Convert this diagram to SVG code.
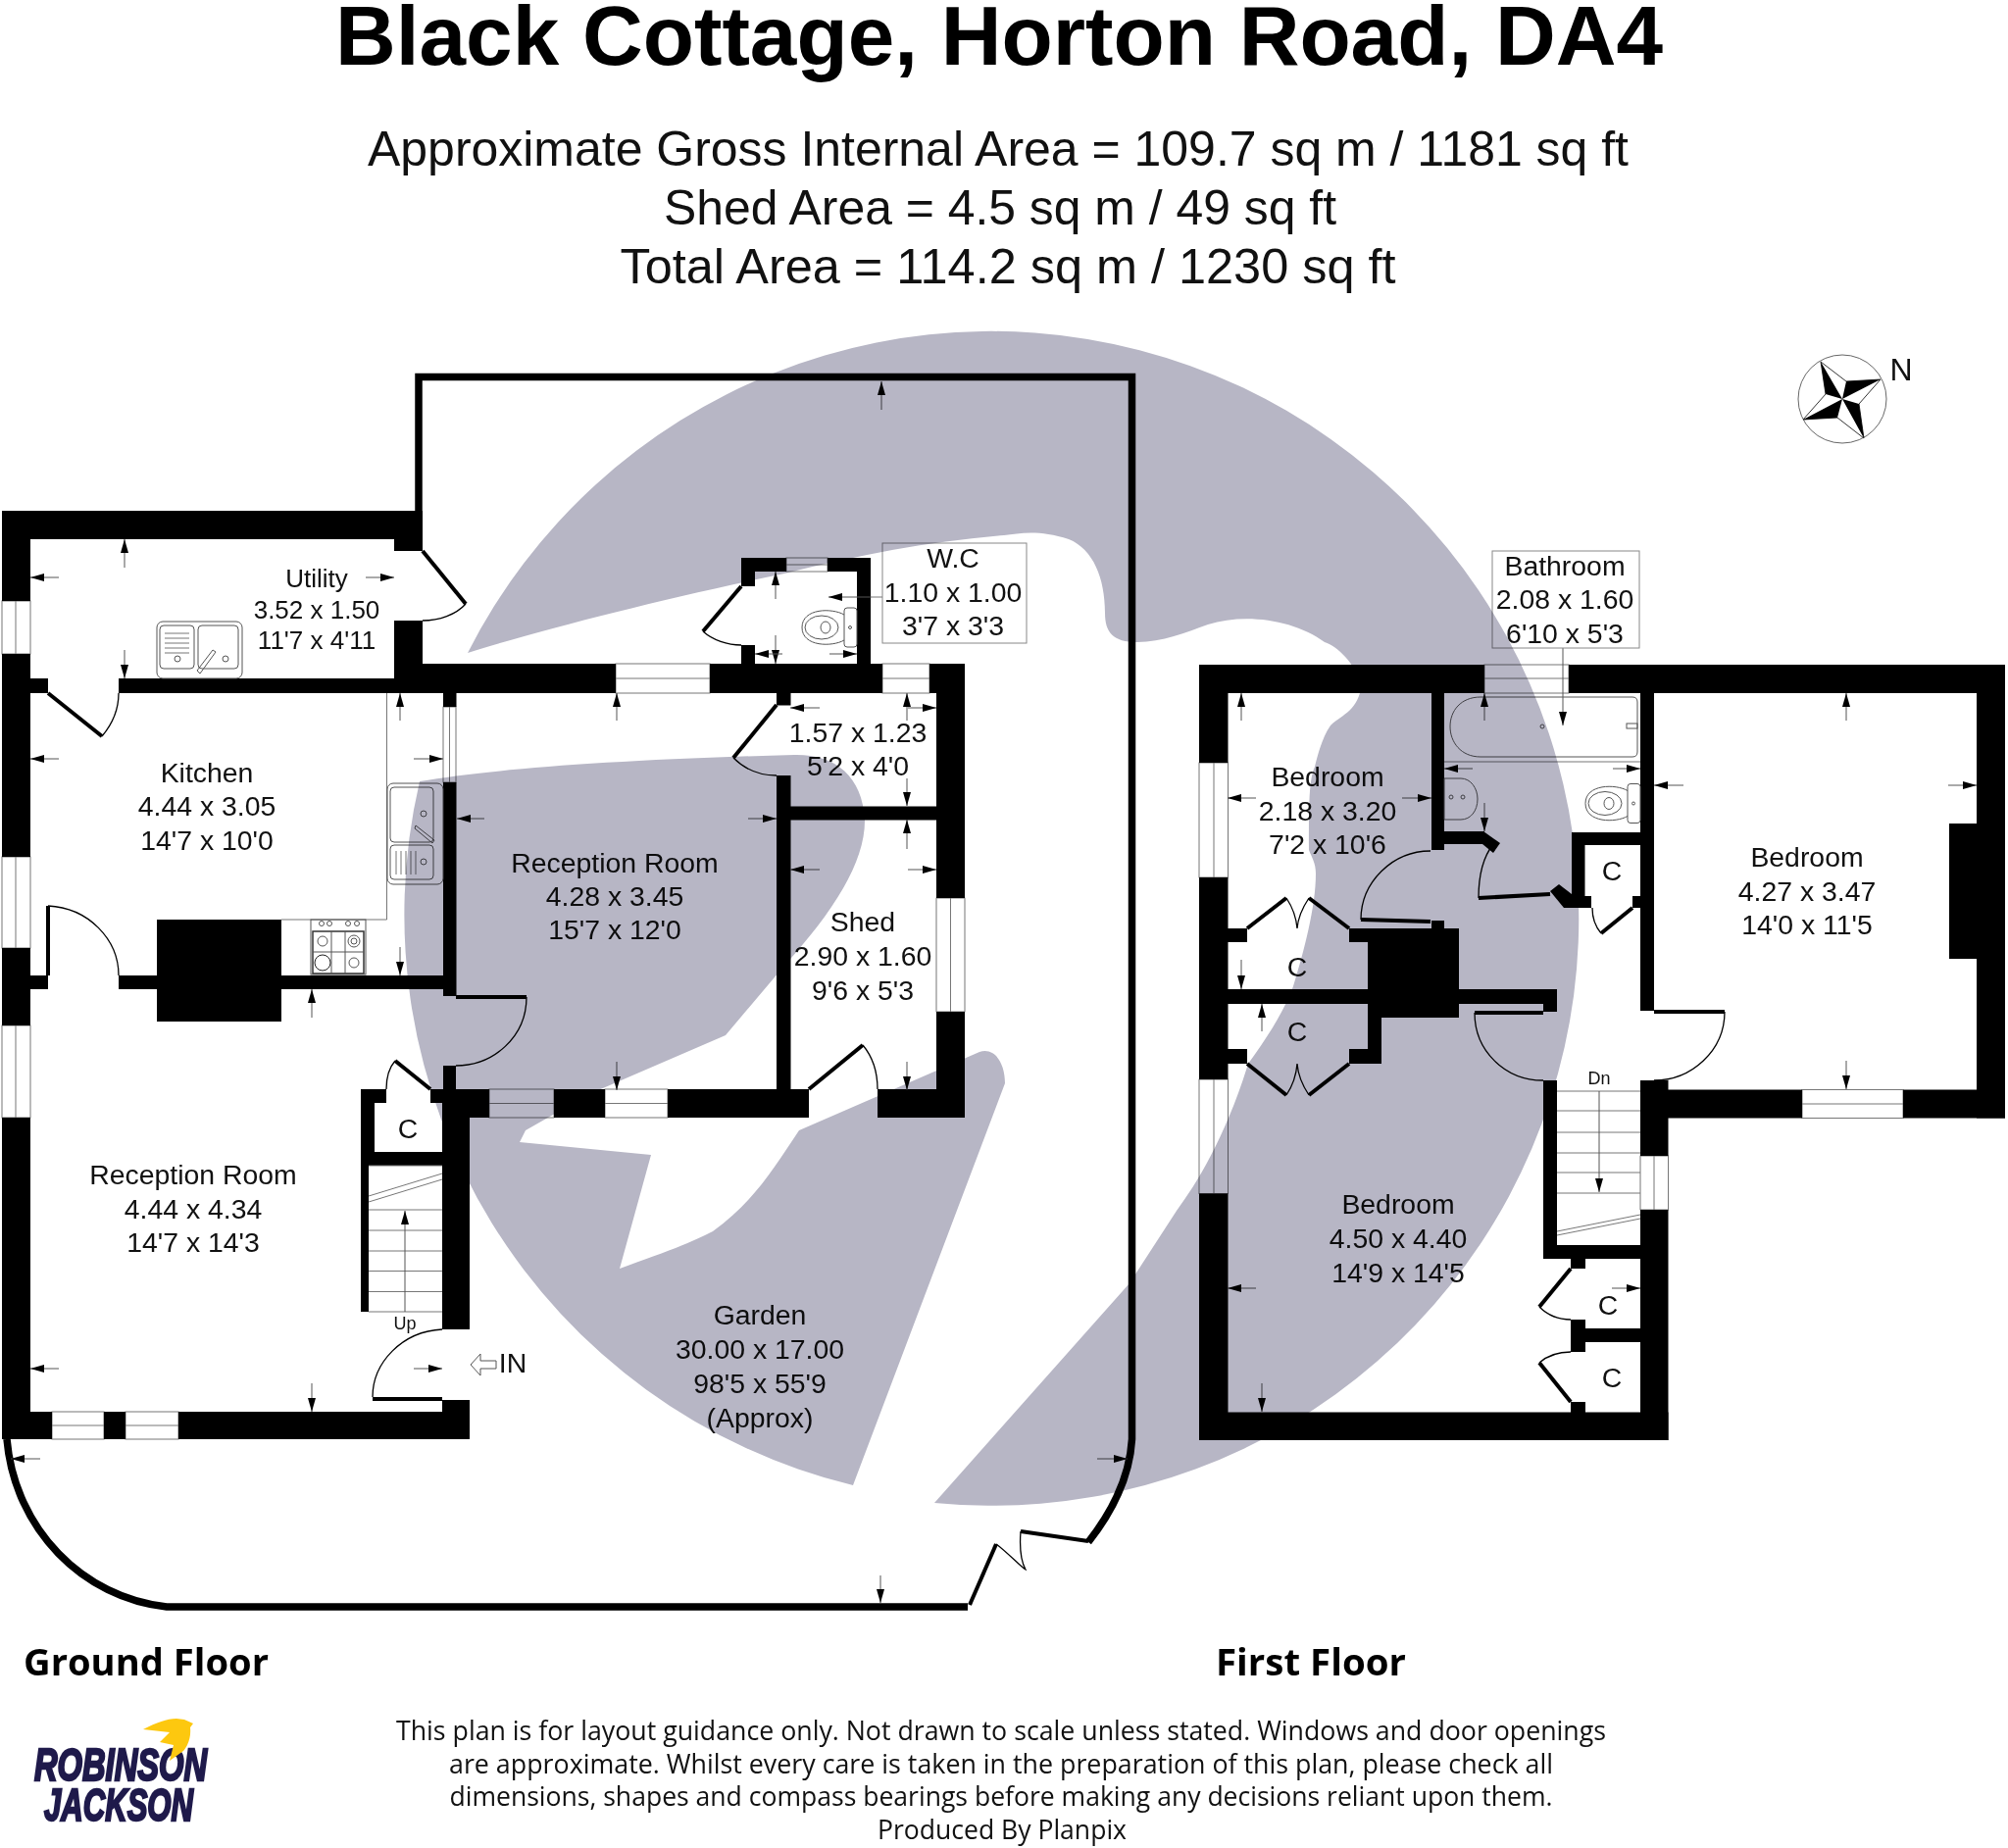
<svg xmlns="http://www.w3.org/2000/svg" width="2048" height="1885" viewBox="0 0 2048 1885">
<style>
text{font-family:"Liberation Sans",Arial,sans-serif;fill:#111;text-anchor:middle}
.t{font-size:28.400px}.u{font-size:26px}.s{font-size:18px}
.title{font-size:85.500px;font-weight:bold;fill:#000}
.sub{font-size:50px}
.floor{font-family:"Open Sans",sans-serif;font-size:38px;font-weight:bold;text-anchor:start;fill:#000}
.foot{font-family:"Open Sans",sans-serif;font-size:27px}
.logo{font-size:46px;font-weight:bold;font-style:italic;fill:#1f1a4b;stroke:#1f1a4b;stroke-width:2.5}
.w{fill:#000}
.win{fill:#fff;stroke:#777;stroke-width:1}
.thin{fill:none;stroke:#777;stroke-width:1}
.fx{fill:none;stroke:#555;stroke-width:1}
.arc{fill:none;stroke:#000;stroke-width:1.3}
.leaf{fill:none;stroke:#000;stroke-width:4}
.bound{fill:none;stroke:#000;stroke-width:7.5}
.d{fill:none;stroke:#555;stroke-width:1;marker-end:url(#ah)}
.box{fill:none;stroke:#888;stroke-width:1}
#watermark{fill:#b7b6c5;mix-blend-mode:multiply}
</style>
<defs>
<marker id="ah" markerUnits="userSpaceOnUse" markerWidth="15" markerHeight="9" refX="14" refY="4.5" orient="auto"><path d="M0 0.5L14 4.5L0 8.5Z" fill="#000"/></marker>
<g id="toilet"><rect class="fx" x="-13" y="-20" width="13" height="40" rx="3"/><path class="fx" d="M-13 -13C-25 -20 -56 -20 -56 0C-56 20 -25 20 -13 13"/><ellipse class="fx" cx="-36" cy="0" rx="17" ry="12"/><ellipse class="fx" cx="-32" cy="0" rx="5" ry="6"/><circle class="fx" cx="-7" cy="0" r="1.5"/></g>
</defs>

<g id="titles">
<text class="title" x="1019" y="66">Black Cottage, Horton Road, DA4</text>
<text class="sub" x="1018" y="169" textLength="1286" lengthAdjust="spacingAndGlyphs">Approximate Gross Internal Area = 109.7 sq m / 1181 sq ft</text>
<text class="sub" x="1020" y="229" textLength="686" lengthAdjust="spacingAndGlyphs">Shed Area = 4.5 sq m / 49 sq ft</text>
<text class="sub" x="1028" y="289" textLength="791" lengthAdjust="spacingAndGlyphs">Total Area = 114.2 sq m / 1230 sq ft</text>
</g>

<g id="ground-floor">
<g id="gf-windows">
<rect class="win" x="2" y="613" width="29" height="54"/><path class="thin" d="M16 613V667"/>
<rect class="win" x="2" y="874" width="29" height="93"/><path class="thin" d="M16 874V967"/>
<rect class="win" x="2" y="1046" width="29" height="94"/><path class="thin" d="M16 1046V1140"/>
<rect class="win" x="628" y="677" width="96" height="30"/><path class="thin" d="M628 692H724"/>
<rect class="win" x="900" y="677" width="48" height="30"/><path class="thin" d="M900 692H948"/>
<rect class="win" x="802" y="569" width="42" height="14"/><path class="thin" d="M802 576H844"/>
<rect class="win" x="452" y="721" width="13" height="77"/><path class="thin" d="M458.500 721V798"/>
<rect class="win" x="955" y="916" width="29" height="116"/><path class="thin" d="M969.500 916V1032"/>
<rect class="win" x="499" y="1111" width="66" height="29"/><path class="thin" d="M499 1125.500H565"/>
<rect class="win" x="617" y="1111" width="64" height="29"/><path class="thin" d="M617 1125.500H681"/>
<rect class="win" x="53" y="1440" width="53" height="28"/><path class="thin" d="M53 1454H106"/>
<rect class="win" x="128" y="1440" width="54" height="28"/><path class="thin" d="M128 1454H182"/>
</g>
<g id="gf-walls" class="w">
<rect x="2" y="521" width="429" height="29"/>
<rect x="2" y="521" width="29" height="92"/>
<rect x="2" y="667" width="29" height="207"/>
<rect x="2" y="967" width="29" height="79"/>
<rect x="2" y="1140" width="29" height="328"/>
<rect x="402" y="550" width="29" height="12"/>
<rect x="402" y="633" width="29" height="45"/>
<rect x="402" y="677" width="226" height="30"/>
<rect x="724" y="677" width="176" height="30"/>
<rect x="948" y="677" width="36" height="30"/>
<rect x="31" y="692" width="18" height="15"/>
<rect x="121" y="692" width="281" height="15"/>
<rect x="955" y="677" width="29" height="239"/>
<rect x="955" y="1032" width="29" height="108"/>
<rect x="895" y="1111" width="89" height="29"/>
<rect x="681" y="1111" width="144" height="29"/>
<rect x="565" y="1111" width="52" height="29"/>
<rect x="451" y="1111" width="48" height="29"/>
<rect x="439" y="1111" width="12" height="14"/>
<rect x="451" y="1111" width="28" height="245"/>
<rect x="452" y="1087" width="13" height="24"/>
<rect x="452" y="798" width="13.500" height="218"/>
<rect x="452" y="707" width="13.500" height="14"/>
<rect x="465" y="1015" width="72" height="4"/>
<rect x="31" y="995" width="18" height="14"/>
<rect x="121" y="995" width="331" height="14"/>
<rect x="160" y="938" width="127" height="104"/>
<rect x="792" y="707" width="14.500" height="12.500"/>
<rect x="792" y="791" width="14.500" height="320"/>
<rect x="806" y="822.500" width="149" height="14"/>
<rect x="756" y="569" width="46" height="14"/>
<rect x="844" y="569" width="44" height="14"/>
<rect x="874" y="569" width="14" height="108"/>
<rect x="756" y="569" width="14" height="29"/>
<rect x="756" y="658" width="14" height="19"/>
<rect x="368" y="1111" width="8" height="227"/>
<rect x="368" y="1111" width="26" height="14"/>
<rect x="368" y="1111" width="14" height="64"/>
<rect x="368" y="1175" width="83" height="14"/>
<rect x="451" y="1428" width="28" height="40"/>
<rect x="2" y="1440" width="51" height="28"/>
<rect x="106" y="1440" width="22" height="28"/>
<rect x="182" y="1440" width="297" height="28"/>
<rect x="380" y="1425" width="71" height="4"/>
</g>
<g id="gf-boundary">
<path class="bound" d="M427 521V384.500H1154.500V1468C1152 1510 1132 1545 1110 1573"/>
<path class="bound" d="M7 1468C15 1560 85 1630 170 1639H987"/>
<path class="leaf" d="M1110 1572L1041 1562"/>
<path class="leaf" d="M1016 1575L989 1637" stroke-width="3"/>
<path class="arc" d="M1016 1575C1026 1582 1043 1600 1046 1601C1040 1590 1040 1575 1041 1562"/>
</g>
<g id="gf-doors">
<path class="leaf" d="M431 562L475 616"/><path class="arc" d="M475 616C465 627 448 633 431 633"/>
<path class="leaf" d="M49 707L104 751"/><path class="arc" d="M104 751C115 738 121 722 121 707"/>
<path class="leaf" d="M49 924V995"/><path class="arc" d="M49 924C90 926 121 958 121 995"/>
<path class="arc" d="M537 1017C537 1058 503 1087 465 1087"/>
<path class="leaf" d="M792 719L748 773"/><path class="arc" d="M748 773C760 785 775 791 792 791"/>
<path class="leaf" d="M756 598L717 644" stroke-width="3"/><path class="arc" d="M717 644C727 653 742 658 756 658"/>
<path class="leaf" d="M439 1111L403 1082" stroke-width="3"/><path class="arc" d="M403 1082C396 1090 394 1100 394 1111"/>
<path class="leaf" d="M825 1111L880 1066" stroke-width="3"/><path class="arc" d="M880 1066C890 1078 895 1095 895 1111"/>
<path class="arc" d="M451 1356C410 1358 380 1390 380 1425"/>
</g>
<g id="gf-fixtures">
<path class="thin" d="M394.500 707V938H287"/>
<rect class="fx" x="160" y="634" width="87" height="58" rx="6"/>
<rect class="fx" x="163" y="638" width="35" height="44" rx="4"/>
<rect class="fx" x="202" y="638" width="41" height="44" rx="4"/>
<path class="thin" d="M168 646H193M168 651H193M168 656H193M168 661H193M168 666H193"/>
<circle class="fx" cx="181" cy="672" r="3"/><circle class="fx" cx="230" cy="672" r="3"/>
<path class="fx" d="M201 684L217 663L220 665L204 687Z"/>
<rect class="fx" x="395" y="799" width="57" height="103" rx="6"/>
<rect class="fx" x="398" y="803" width="44" height="56" rx="4"/>
<rect class="fx" x="398" y="862" width="44" height="35" rx="4"/>
<path class="thin" d="M404 868V892M409 868V892M414 868V892M419 868V892M424 868V892"/>
<circle class="fx" cx="432" cy="830" r="3"/><circle class="fx" cx="432" cy="879" r="3"/>
<path class="fx" d="M424 842L443 857L441 860L423 845Z"/>
<rect class="fx" x="317" y="938" width="56" height="56"/>
<rect x="319" y="950" width="52" height="43" fill="none" stroke="#333" stroke-width="1.500"/>
<path class="fx" d="M319 971H371M338 950V993M352 950V993"/>
<circle class="fx" cx="329" cy="960" r="5"/><circle class="fx" cx="361" cy="960" r="6"/><circle class="fx" cx="361" cy="960" r="3"/>
<circle cx="329" cy="982" r="8" fill="none" stroke="#222"/><circle class="fx" cx="361" cy="982" r="5"/>
<circle class="fx" cx="328" cy="942" r="2.500"/><circle class="fx" cx="336" cy="942" r="2.500"/><circle class="fx" cx="355" cy="942" r="2.500"/><circle class="fx" cx="364" cy="942" r="2.500"/>
<use href="#toilet" x="874" y="640"/>
<path class="thin" d="M376 1234H451M376 1255H451M376 1276H451M376 1296.500H451M376 1317.500H451M376 1338H451M376 1189H451"/>
<path class="thin" d="M376 1220L451 1197M376 1226L451 1203"/>
<path class="d" d="M413 1338V1235"/>
<path class="fx" stroke="#444" d="M506 1388H490V1381L480 1392L490 1403V1396H506Z"/>
</g>
<g id="gf-dims">
<path class="d" d="M899 418V389"/><path class="d" d="M127 579V550"/><path class="d" d="M60 589H31"/><path class="d" d="M373 589H402"/><path class="d" d="M127 663V692"/>
<path class="d" d="M408 735V707"/><path class="d" d="M60 774H31"/><path class="d" d="M422 774H452"/><path class="d" d="M408 966V995"/>
<path class="d" d="M791 611V583"/><path class="d" d="M889 609H845"/><path class="d" d="M791 648V677"/><path class="d" d="M798 667H770"/><path class="d" d="M846 667H874"/>
<path class="d" d="M629 735V707"/><path class="d" d="M494 835H466"/><path class="d" d="M763 835H792"/><path class="d" d="M318 1038V1009"/><path class="d" d="M629 1083V1112"/>
<path class="d" d="M836 722H806"/><path class="d" d="M926 722H955"/><path class="d" d="M925 735V707"/><path class="d" d="M925 794V822"/>
<path class="d" d="M925 866V836"/><path class="d" d="M836 887H806"/><path class="d" d="M926 887H955"/><path class="d" d="M925 1083V1112"/>
<path class="d" d="M60 1396H31"/><path class="d" d="M422 1396H451"/><path class="d" d="M318 1411V1440"/>
<path class="d" d="M41 1488H11"/><path class="d" d="M1119 1488H1150"/><path class="d" d="M898 1607V1635"/>
</g>
<g id="gf-labels">
<text class="u" x="323" y="599">Utility</text><text class="u" x="323" y="631">3.52 x 1.50</text><text class="u" x="323" y="662">11'7 x 4'11</text>
<text class="t" x="211" y="798">Kitchen</text><text class="t" x="211" y="832">4.44 x 3.05</text><text class="t" x="211" y="867">14'7 x 10'0</text>
<text class="t" x="627" y="890">Reception Room</text><text class="t" x="627" y="924">4.28 x 3.45</text><text class="t" x="627" y="958">15'7 x 12'0</text>
<rect class="box" x="900" y="554" width="147" height="102"/><path class="thin" d="M889 609H900"/>
<text class="t" x="972" y="579">W.C</text><text class="t" x="972" y="614">1.10 x 1.00</text><text class="t" x="972" y="648">3'7 x 3'3</text>
<text class="t" x="875" y="757">1.57 x 1.23</text><text class="t" x="875" y="791">5'2 x 4'0</text>
<text class="t" x="880" y="950">Shed</text><text class="t" x="880" y="985">2.90 x 1.60</text><text class="t" x="880" y="1020">9'6 x 5'3</text>
<text class="t" x="197" y="1208">Reception Room</text><text class="t" x="197" y="1243">4.44 x 4.34</text><text class="t" x="197" y="1277">14'7 x 14'3</text>
<text class="t" x="416" y="1161">C</text>
<text class="s" x="413" y="1356">Up</text>
<text class="t" x="523" y="1400">IN</text>
<text class="t" x="775" y="1351">Garden</text><text class="t" x="775" y="1386">30.00 x 17.00</text><text class="t" x="775" y="1421">98'5 x 55'9</text><text class="t" x="775" y="1456">(Approx)</text>
</g>
</g>

<g id="first-floor">
<g id="ff-windows">
<rect class="win" x="1223" y="778" width="29.500" height="117"/><path class="thin" d="M1238 778V895"/>
<rect class="win" x="1223" y="1101" width="29.500" height="116.500"/><path class="thin" d="M1238 1101V1217.500"/>
<rect class="win" x="1514" y="678" width="86" height="29"/><path class="thin" d="M1514 692H1600"/>
<rect class="win" x="1838" y="1111.500" width="103" height="29"/><path class="thin" d="M1838 1126H1941"/>
<rect class="win" x="1673" y="1179" width="28.500" height="55"/><path class="thin" d="M1687 1179V1234"/>
</g>
<g id="ff-walls" class="w">
<rect x="1223" y="678" width="291" height="29"/>
<rect x="1600" y="678" width="445" height="29"/>
<rect x="1223" y="678" width="29.500" height="100"/>
<rect x="1223" y="895" width="29.500" height="206"/>
<rect x="1223" y="1217.500" width="29.500" height="251.500"/>
<rect x="1223" y="1440.500" width="478.500" height="28.500"/>
<rect x="1673" y="1234" width="28.500" height="235"/>
<rect x="1673" y="1102" width="28.500" height="77"/>
<rect x="1687" y="1111.500" width="151" height="29"/>
<rect x="1941" y="1111.500" width="104" height="29"/>
<rect x="2016" y="678" width="29" height="462.500"/>
<rect x="1988" y="840" width="28" height="138"/>
<rect x="1673" y="707" width="14" height="324"/>
<rect x="1460" y="707" width="13" height="160"/>
<rect x="1460" y="848" width="54" height="13"/>
<path d="M1513 848L1530 860L1523 870L1512 861Z"/>
<path d="M1581 909L1590 902L1603 912V926H1595Z"/>
<rect x="1603" y="849" width="13.500" height="77"/>
<rect x="1603" y="849" width="70" height="13"/>
<rect x="1603" y="914" width="20" height="12"/>
<rect x="1665" y="914" width="8" height="12"/>
<rect x="1460" y="939" width="13" height="8"/>
<rect x="1395" y="947" width="93" height="91"/>
<rect x="1488" y="1009" width="100" height="15"/>
<rect x="1574" y="1024" width="14" height="8"/>
<rect x="1252" y="1009" width="143" height="15"/>
<rect x="1395" y="1038" width="14" height="47"/>
<rect x="1376" y="1070" width="33" height="15"/>
<rect x="1376" y="947" width="19" height="14"/>
<rect x="1252" y="947" width="20" height="14"/>
<rect x="1252" y="1070" width="20" height="15"/>
<rect x="1574" y="1102" width="14" height="182"/>
<rect x="1574" y="1270" width="99" height="14"/>
<rect x="1602" y="1284" width="15" height="10"/>
<rect x="1602" y="1346" width="15" height="33"/>
<rect x="1617" y="1355" width="56" height="14"/>
<rect x="1602" y="1430" width="15" height="11"/>
</g>
<g id="ff-doors">
<path class="leaf" d="M1508 916L1581 912" stroke-width="3"/><path class="arc" d="M1523 861C1512 875 1508 895 1508 916"/>
<path class="leaf" d="M1388 938L1459 940" stroke-width="3"/><path class="arc" d="M1459 868C1420 868 1388 900 1388 938"/>
<path class="leaf" d="M1687 1032H1759" stroke-width="3"/><path class="arc" d="M1759 1032C1759 1072 1725 1102 1687 1102"/>
<path class="leaf" d="M1504 1033H1574" stroke-width="3"/><path class="arc" d="M1504 1033C1504 1072 1535 1102 1574 1102"/>
<path class="leaf" d="M1665 926L1633 952" stroke-width="3"/><path class="arc" d="M1633 952C1627 945 1624 936 1624 926"/>
<path class="leaf" d="M1272 947L1312 916" stroke-width="3"/><path class="leaf" d="M1376 947L1335 916" stroke-width="3"/>
<path class="arc" d="M1312 916C1318 925 1322 935 1323 947C1324 935 1329 925 1335 916"/>
<path class="leaf" d="M1272 1085L1312 1117" stroke-width="3"/><path class="leaf" d="M1376 1085L1335 1117" stroke-width="3"/>
<path class="arc" d="M1312 1117C1318 1108 1322 1098 1323 1085C1324 1098 1329 1108 1335 1117"/>
<path class="leaf" d="M1602 1294L1570 1333" stroke-width="3"/><path class="arc" d="M1570 1333C1578 1341 1590 1346 1602 1346"/>
<path class="leaf" d="M1602 1430L1570 1390" stroke-width="3"/><path class="arc" d="M1570 1390C1578 1383 1590 1379 1602 1379"/>
</g>
<g id="ff-fixtures">
<path class="fx" d="M1510 711H1665Q1670 711 1670 716V767Q1670 772 1665 772H1510C1490 772 1479 757 1479 741C1479 725 1490 711 1510 711Z"/>
<circle class="fx" cx="1573" cy="741" r="2"/>
<rect class="fx" x="1659" y="738" width="11" height="5"/>
<path class="thin" d="M1473 777H1673"/>
<path class="fx" d="M1473 794H1490C1500 794 1507 804 1507 815C1507 827 1500 836 1490 836H1473Z"/>
<circle class="fx" cx="1492" cy="813" r="2"/><circle class="fx" cx="1480" cy="813" r="2"/>
<use href="#toilet" x="1673" y="819.500"/>
<path class="thin" d="M1588 1113H1673M1588 1133H1673M1588 1155H1673M1588 1176H1673M1588 1196H1673M1588 1217H1673"/>
<path class="thin" d="M1588 1256L1673 1239M1588 1260L1673 1243"/>
<path class="d" d="M1631 1113V1216"/>
</g>
<g id="ff-dims">
<path class="d" d="M1266 735V707"/><path class="d" d="M1281 814H1252"/><path class="d" d="M1430 814H1460"/><path class="d" d="M1266 979V1009"/>
<path class="d" d="M1514 735V707"/><path class="d" d="M1502 784H1473"/><path class="d" d="M1645 784H1673"/><path class="d" d="M1514 819V848"/>
<path class="d" d="M1883 735V707"/><path class="d" d="M1717 801H1687"/><path class="d" d="M1987 801H2016"/><path class="d" d="M1883 1082V1111"/>
<path class="d" d="M1287 1052V1024"/><path class="d" d="M1281 1314H1252"/><path class="d" d="M1644 1314H1673"/><path class="d" d="M1287 1411V1440"/>
<path class="d" d="M1594 661V740"/>
</g>
<g id="ff-labels">
<rect class="box" x="1522" y="562" width="150" height="99"/>
<text class="t" x="1596" y="587">Bathroom</text><text class="t" x="1596" y="621">2.08 x 1.60</text><text class="t" x="1596" y="656">6'10 x 5'3</text>
<text class="t" x="1354" y="802">Bedroom</text><text class="t" x="1354" y="837">2.18 x 3.20</text><text class="t" x="1354" y="871">7'2 x 10'6</text>
<text class="t" x="1843" y="884">Bedroom</text><text class="t" x="1843" y="919">4.27 x 3.47</text><text class="t" x="1843" y="953">14'0 x 11'5</text>
<text class="t" x="1426" y="1238">Bedroom</text><text class="t" x="1426" y="1273">4.50 x 4.40</text><text class="t" x="1426" y="1308">14'9 x 14'5</text>
<text class="t" x="1323" y="996">C</text><text class="t" x="1323" y="1062">C</text><text class="t" x="1644" y="898">C</text><text class="t" x="1640" y="1341">C</text><text class="t" x="1644" y="1415">C</text>
<text class="s" x="1631" y="1106">Dn</text>
</g>
</g>

<g id="compass">
<circle cx="1879" cy="407" r="45" fill="none" stroke="#666" stroke-width="1"/>
<path d="M1857 369L1883 389L1918 387L1896 412L1901 447L1874 426L1839 428L1862 402Z" fill="#fff" stroke="#333" stroke-width="1"/>
<path d="M1857 369L1879 407L1862 402ZM1918 387L1879 407L1883 389ZM1901 447L1879 407L1896 412ZM1839 428L1879 407L1874 426Z" fill="#000"/>
<text x="1939" y="388" font-size="32">N</text>
</g>

<g id="captions">
<text class="floor" x="24" y="1709" textLength="250" lengthAdjust="spacingAndGlyphs">Ground Floor</text>
<text class="floor" x="1240" y="1709" textLength="194" lengthAdjust="spacingAndGlyphs">First Floor</text>
<text class="foot" x="1021" y="1775" textLength="1234" lengthAdjust="spacingAndGlyphs">This plan is for layout guidance only. Not drawn to scale unless stated. Windows and door openings</text>
<text class="foot" x="1021" y="1809" textLength="1126" lengthAdjust="spacingAndGlyphs">are approximate. Whilst every care is taken in the preparation of this plan, please check all</text>
<text class="foot" x="1021" y="1842" textLength="1125" lengthAdjust="spacingAndGlyphs">dimensions, shapes and compass bearings before making any decisions reliant upon them.</text>
<text class="foot" x="1022" y="1876" textLength="254" lengthAdjust="spacingAndGlyphs">Produced By Planpix</text>
</g>

<g id="logo">
<text class="logo" x="123" y="1816" textLength="176" lengthAdjust="spacingAndGlyphs">ROBINSON</text>
<text class="logo" x="121" y="1857" textLength="152" lengthAdjust="spacingAndGlyphs">JACKSON</text>
<path d="M146 1764C160 1757 170 1753 180 1753L188 1754L197 1758L194 1762C195 1772 192 1780 187 1786L173 1796L177 1780L163 1777L173 1767Z" fill="#fdc80f"/>
</g>

<g id="watermark">
<path d="M477 666A599 599 0 1 1 953 1533L1152 1309L1200 1235C1220 1208 1250 1160 1273 1085C1295 1055 1310 1030 1319 1006C1330 970 1342 925 1342 891C1342 880 1338 875 1335 867C1335 820 1335 795 1341 782C1345 765 1350 750 1357 740C1370 728 1385 725 1389 698C1380 675 1365 660 1351 655C1320 632 1270 625 1232 637C1210 645 1185 655 1160 655C1135 655 1127 645 1127 625C1127 590 1115 560 1090 550C1060 540 1040 544 1024 546C950 552 880 565 800 585C680 610 560 640 477 666Z"/>
<path d="M428 797C500 785 620 775 810 770C850 769 880 790 882 837C882 880 850 930 800 985L740 1056L601 1116L536 1153L530 1165L664 1178L632 1294C670 1280 700 1270 727 1256C770 1225 790 1190 815 1153L999 1073C1015 1068 1025 1085 1025 1105L870 1515A599 599 0 0 1 428 797Z"/>
</g>
</svg>
